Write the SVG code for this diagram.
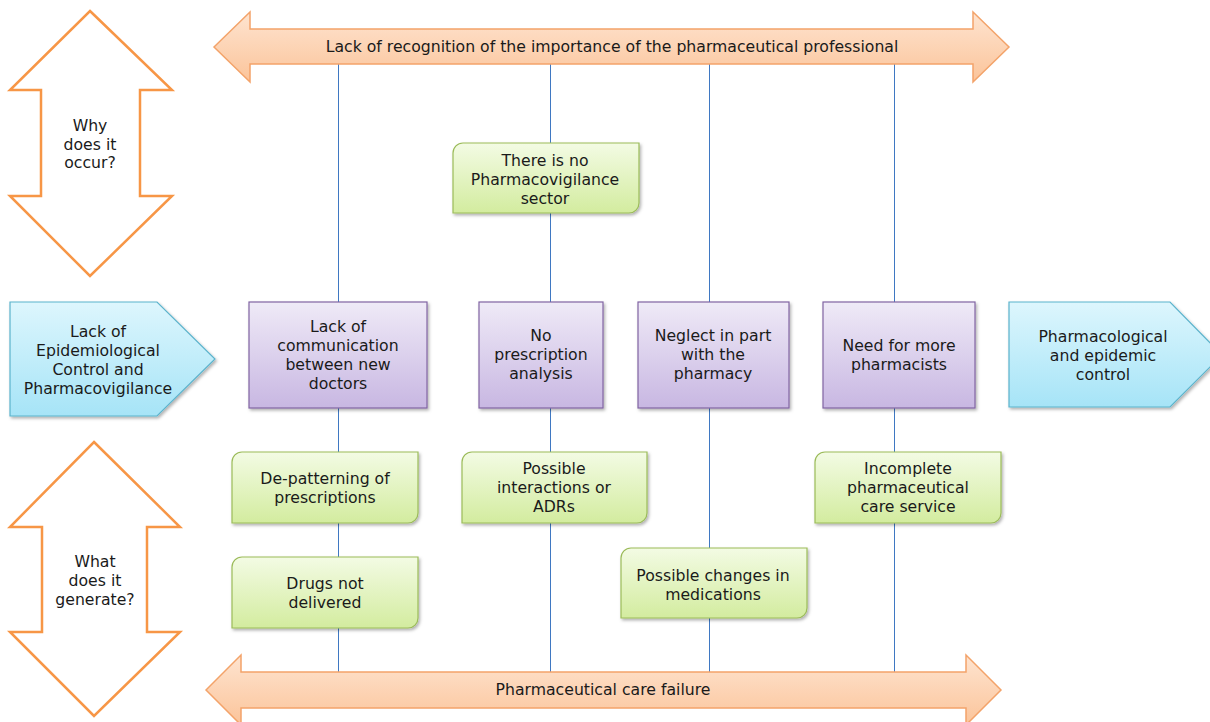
<svg xmlns="http://www.w3.org/2000/svg" width="1210" height="722" viewBox="0 0 1210 722">
<defs>
<linearGradient id="gOrange" x1="0" y1="0" x2="0" y2="1"><stop offset="0" stop-color="#FEE4D0"/><stop offset="1" stop-color="#FBC49A"/></linearGradient>
<linearGradient id="gBlue" x1="0" y1="0" x2="0" y2="1"><stop offset="0" stop-color="#DDF6FD"/><stop offset="1" stop-color="#A6E4F7"/></linearGradient>
<linearGradient id="gPurple" x1="0" y1="0" x2="0" y2="1"><stop offset="0" stop-color="#EFEAF7"/><stop offset="1" stop-color="#C8B7E2"/></linearGradient>
<linearGradient id="gGreen" x1="0" y1="0" x2="0" y2="1"><stop offset="0" stop-color="#F3FBE4"/><stop offset="1" stop-color="#D3EC9F"/></linearGradient>
<filter id="sh" x="-10%" y="-10%" width="120%" height="130%"><feDropShadow dx="1.5" dy="2" stdDeviation="1.5" flood-color="#000" flood-opacity="0.3"/></filter>
</defs>
<style>
text{font-family:"DejaVu Sans",Verdana,sans-serif;font-size:15.7px;fill:#1a1a1a;text-anchor:middle}
.ob{fill:url(#gOrange);stroke:#F3A36A;stroke-width:1.5}
.ow{fill:#fff;stroke:#F79646;stroke-width:2.5}
.bl{fill:url(#gBlue);stroke:#5BB3CC;stroke-width:1.2;filter:url(#sh)}
.pu{fill:url(#gPurple);stroke:#8064A2;stroke-width:1.2;filter:url(#sh)}
.gr{fill:url(#gGreen);stroke:#9BBB59;stroke-width:1.2;filter:url(#sh)}
.ln{stroke:#3F78C2;stroke-width:1;fill:none}
</style>
<rect width="1210" height="722" fill="#fff"/>
<g id="connectors">
<line class="ln" x1="338.5" y1="64" x2="338.5" y2="672"/>
<line class="ln" x1="550.5" y1="64" x2="550.5" y2="672"/>
<line class="ln" x1="709.5" y1="64" x2="709.5" y2="672"/>
<line class="ln" x1="894.5" y1="64" x2="894.5" y2="672"/>
</g>
<g id="top-arrow">
<polygon class="ob" points="214,47 250,12 250,29 973,29 973,12 1009,47 973,82 973,64 250,64 250,82"/>
<text x="612" y="52">Lack of recognition of the importance of the pharmaceutical professional</text>
</g>
<g id="bottom-arrow">
<polygon class="ob" points="206,690 241,655 241,672 966,672 966,655 1001,690 966,725 966,708 241,708 241,725"/>
<text x="603" y="695">Pharmaceutical care failure</text>
</g>
<g id="why">
<polygon class="ow" points="90,11 172,90 140,90 140,196 172,196 90,276 10,196 41,196 41,90 10,90"/>
<text x="90" y="131">Why</text><text x="90" y="150">does it</text><text x="90" y="168">occur?</text>
</g>
<g id="what">
<polygon class="ow" points="94,442 180,527 147,527 147,632 180,632 94,716 10,632 42,632 42,527 10,527"/>
<text x="95" y="567">What</text><text x="95" y="586">does it</text><text x="95" y="605">generate?</text>
</g>
<g id="lack-epi">
<polygon class="bl" points="10,302 157,302 215,359 157,416 10,416"/>
<text x="98" y="337">Lack of</text><text x="98" y="356">Epidemiological</text><text x="98" y="375">Control and</text><text x="98" y="394">Pharmacovigilance</text>
</g>
<g id="pharm-control">
<polygon class="bl" points="1009,302 1170,302 1222,355 1170,407 1009,407"/>
<text x="1103" y="342">Pharmacological</text><text x="1103" y="361">and epidemic</text><text x="1103" y="380">control</text>
</g>
<g id="p1">
<rect class="pu" x="249" y="302" width="178" height="106"/>
<text x="338" y="332">Lack of</text><text x="338" y="351">communication</text><text x="338" y="370">between new</text><text x="338" y="389">doctors</text>
</g>
<g id="p2">
<rect class="pu" x="479" y="302" width="124" height="106"/>
<text x="541" y="341">No</text><text x="541" y="360">prescription</text><text x="541" y="379">analysis</text>
</g>
<g id="p3">
<rect class="pu" x="638" y="302" width="151" height="106"/>
<text x="713" y="341">Neglect in part</text><text x="713" y="360">with the</text><text x="713" y="379">pharmacy</text>
</g>
<g id="p4">
<rect class="pu" x="823" y="302" width="152" height="106"/>
<text x="899" y="351">Need for more</text><text x="899" y="370">pharmacists</text>
</g>
<g id="g1">
<path class="gr" d="M463,143 H639 V203 A10,10 0 0 1 629,213 H453 V153 A10,10 0 0 1 463,143 Z"/>
<text x="545" y="166">There is no</text><text x="545" y="185">Pharmacovigilance</text><text x="545" y="204">sector</text>
</g>
<g id="g2">
<path class="gr" d="M242,452 H418 V513 A10,10 0 0 1 408,523 H232 V462 A10,10 0 0 1 242,452 Z"/>
<text x="325" y="484">De-patterning of</text><text x="325" y="503">prescriptions</text>
</g>
<g id="g3">
<path class="gr" d="M242,557 H418 V618 A10,10 0 0 1 408,628 H232 V567 A10,10 0 0 1 242,557 Z"/>
<text x="325" y="589">Drugs not</text><text x="325" y="608">delivered</text>
</g>
<g id="g4">
<path class="gr" d="M472,452 H647 V513 A10,10 0 0 1 637,523 H462 V462 A10,10 0 0 1 472,452 Z"/>
<text x="554" y="474">Possible</text><text x="554" y="493">interactions or</text><text x="554" y="512">ADRs</text>
</g>
<g id="g5">
<path class="gr" d="M631,548 H807 V608 A10,10 0 0 1 797,618 H621 V558 A10,10 0 0 1 631,548 Z"/>
<text x="713" y="581">Possible changes in</text><text x="713" y="600">medications</text>
</g>
<g id="g6">
<path class="gr" d="M825,452 H1001 V513 A10,10 0 0 1 991,523 H815 V462 A10,10 0 0 1 825,452 Z"/>
<text x="908" y="474">Incomplete</text><text x="908" y="493">pharmaceutical</text><text x="908" y="512">care service</text>
</g>
</svg>
